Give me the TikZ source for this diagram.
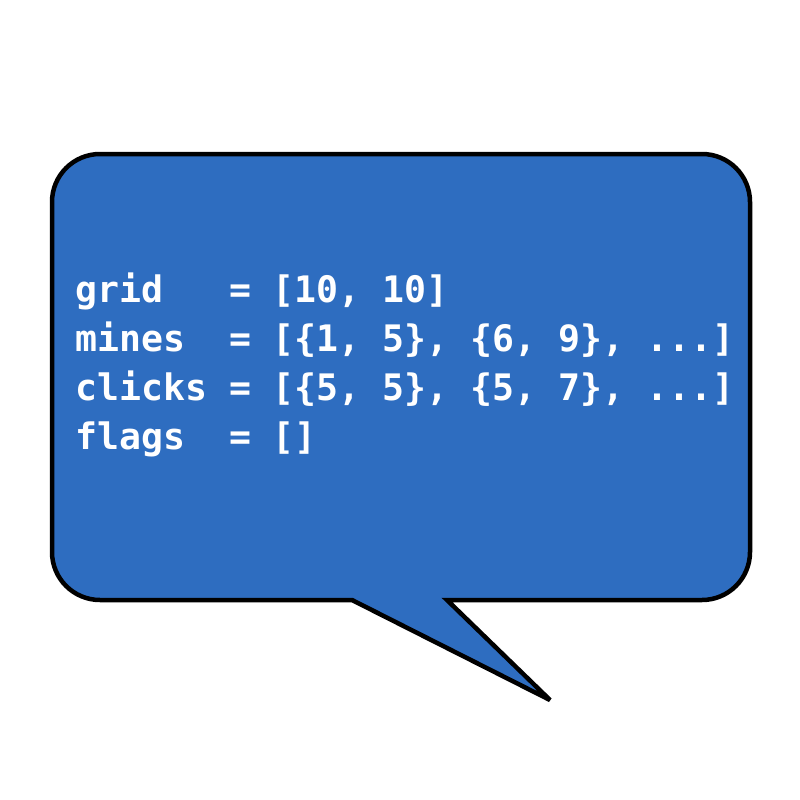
\documentclass[tikz,border=0pt]{standalone}
\usepackage{fontspec}
\newfontfamily\codefont{DejaVu Sans Mono}
\definecolor{bubble}{RGB}{46,109,192}
\begin{document}
\begin{tikzpicture}[x=1pt,y=-1pt,
  codeline/.style={anchor=base west,inner sep=0pt,text=white,font=\codefont\bfseries\fontsize{36.5}{40}\selectfont},
  bubbleshape/.style={draw=black,line width=4.5pt,fill=bubble,line join=miter,miter limit=3}]
\useasboundingbox (0,0) rectangle (800,800);
\draw[bubbleshape] (352,600) -- (100,600) arc[start angle=90,end angle=180,radius=48]
  -- (52,202) arc[start angle=180,end angle=270,radius=48]
  -- (702,154) arc[start angle=270,end angle=360,radius=48]
  -- (750,552) arc[start angle=0,end angle=90,radius=48]
  -- (447,600) -- (550,700) -- cycle;
\frenchspacing
\node[codeline] (l1) at (75,302) {grid\ \ \ = [10, 10]};
\node[codeline] (l2) at (75,351) {mines\ \ = [\{1, 5\}, \{6, 9\}, ...]};
\node[codeline] (l3) at (75,400) {clicks = [\{5, 5\}, \{5, 7\}, ...]};
\node[codeline] (l4) at (75,449) {flags\ \ = []};
\end{tikzpicture}
\end{document}
